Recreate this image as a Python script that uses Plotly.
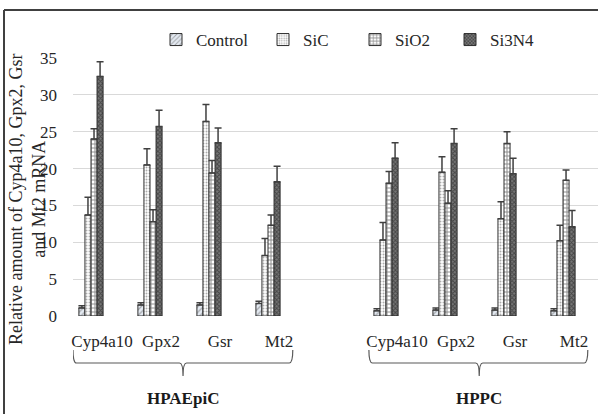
import plotly.graph_objects as go

# ---------------- data ----------------
genes = ["Cyp4a10", "Gpx2", "Gsr", "Mt2"]
cells = ["HPAEpiC", "HPPC"]
series_names = ["Control", "SiC", "SiO2", "Si3N4"]

# values ordered: HPAEpiC (Cyp4a10, Gpx2, Gsr, Mt2), HPPC (Cyp4a10, Gpx2, Gsr, Mt2)
control = [1.1, 1.5, 1.5, 1.7, 0.7, 0.8, 0.8, 0.7]
control_err = [0.3, 0.3, 0.3, 0.3, 0.3, 0.3, 0.3, 0.3]
sic = [13.7, 20.5, 26.4, 8.2, 10.3, 19.5, 13.2, 10.2]
sic_err = [2.4, 2.2, 2.3, 2.3, 2.4, 2.1, 2.3, 2.1]
sio2 = [24.0, 12.8, 19.4, 12.3, 18.0, 15.3, 23.4, 18.4]
sio2_err = [1.4, 1.6, 1.7, 1.4, 1.6, 1.7, 1.6, 1.4]
si3n4 = [32.5, 25.7, 23.5, 18.2, 21.4, 23.4, 19.3, 12.1]
si3n4_err = [2.0, 2.2, 2.0, 2.1, 2.1, 2.0, 2.1, 2.2]

y_ticks = [0, 5, 10, 15, 20, 25, 30, 35]

# ---------------- layout helpers ----------------
GAP = 1  # one empty category slot between the two cell groups
xpos = [g + (len(genes) + GAP) * c for c in range(len(cells)) for g in range(len(genes))]
tick_text = [genes[g] for c in range(len(cells)) for g in range(len(genes))]

FONT = "Liberation Serif, Times New Roman, serif"
TXT = "#262626"

values = [control, sic, sio2, si3n4]
errors = [control_err, sic_err, sio2_err, si3n4_err]
patterns = [
    dict(shape="/", fgcolor="#5f5f5f", bgcolor="#e4eaf2", size=4, solidity=0.3),
    dict(shape=".", fgcolor="#5a5a5a", bgcolor="#ffffff", size=3, solidity=0.35),
    dict(shape="+", fgcolor="#1e1e1e", bgcolor="#ffffff", size=4, solidity=0.45),
    dict(shape="x", fgcolor="#141414", bgcolor="#767676", size=3, solidity=0.5),
]
legend_ids = ["legend", "legend2", "legend3", "legend4"]

fig = go.Figure()
for name, vals, errs, pat, lg in zip(series_names, values, errors, patterns, legend_ids):
    fig.add_trace(go.Bar(
        name=name, x=xpos, y=vals, showlegend=True,
        marker=dict(color="white", line=dict(color="#2e2e2e", width=1), pattern=pat),
        error_y=dict(type="data", array=errs, arrayminus=[0] * len(errs), symmetric=False,
                     color="#404040", thickness=1.5, width=3.5),
        legend=lg,
    ))

W, H = 598, 414
L, R, T, B = 73, 0, 58, 98

def cx(px):  # container fraction from pixel x
    return px / W

def py(pix):  # paper y from pixel y
    return (H - B - pix) / (H - T - B)

def pxp(pix):  # paper x from pixel x
    return (pix - L) / (W - L - R)

legend_common = dict(orientation="h", xref="container", yref="container", yanchor="middle",
                     xanchor="left", font=dict(family=FONT, size=17, color=TXT),
                     bgcolor="rgba(0,0,0,0)", borderwidth=0)
legend_text_px = [193, 300, 392, 487]
layout_legends = {}
for lg, tx in zip(legend_ids, legend_text_px):
    layout_legends[lg] = dict(legend_common, x=cx(tx - 37), y=1 - 40 / H)

fig.update_layout(
    width=W, height=H,
    margin=dict(l=L, r=R, t=T, b=B, autoexpand=False),
    paper_bgcolor="white", plot_bgcolor="white",
    barmode="group", bargap=0.59, bargroupgap=0,
    font=dict(family=FONT, color=TXT),
    showlegend=True,
    **layout_legends,
)

fig.update_xaxes(
    range=[-0.305, 8.593], tickvals=xpos, ticktext=tick_text,
    showgrid=False, zeroline=False, showline=False, ticks="",
    tickfont=dict(family=FONT, size=17, color=TXT),
    ticklabelshift=11, ticklabelstandoff=13,
)
fig.update_yaxes(
    range=[0, 35], tickvals=y_ticks, showgrid=True, gridcolor="#d9d9d9", gridwidth=1,
    zeroline=False, showline=False, ticks="",
    tickfont=dict(family=FONT, size=17, color=TXT), ticklabelstandoff=15,
)

# y-axis title
fig.add_annotation(
    text="Relative amount of Cyp4a10, Gpx2, Gsr<br>and Mt2 mRNA",
    xref="paper", yref="paper", x=pxp(27), y=py(200), xanchor="center", yanchor="middle",
    textangle=-90, showarrow=False, font=dict(family=FONT, size=18, color=TXT),
)

# group braces and labels
brace_specs = [
    (cells[0], -0.305, 3.42, 1.56),
    (cells[1], 4.71, 8.42, 6.58),
]
ytop, yh, ybot = py(350), py(363), py(376)
d = 0.06
for label, x0, x1, xm in brace_specs:
    path = (f"M {x0},{ytop} Q {x0},{yh} {x0 + d},{yh} L {xm - d},{yh} "
            f"Q {xm},{yh} {xm},{ybot} Q {xm},{yh} {xm + d},{yh} "
            f"L {x1 - d},{yh} Q {x1},{yh} {x1},{ytop}")
    fig.add_shape(type="path", path=path, xref="x", yref="paper",
                  line=dict(color="#595959", width=1.2))
    fig.add_annotation(text=f"<b>{label}</b>", xref="x", yref="paper", x=xm, y=py(398),
                       showarrow=False, xanchor="center", yanchor="middle",
                       font=dict(family=FONT, size=17, color="#1a1a1a"))

# outer frame (left and top edges visible)
fig.add_shape(type="line", xref="paper", yref="paper", x0=pxp(4), x1=pxp(4), y0=py(10), y1=py(414),
              line=dict(color="#404040", width=2))
fig.add_shape(type="line", xref="paper", yref="paper", x0=pxp(4), x1=pxp(598), y0=py(10), y1=py(10),
              line=dict(color="#404040", width=2))

fig.write_html("out.html", config={"displayModeBar": False},
               post_script="document.body.style.margin='0px';")
